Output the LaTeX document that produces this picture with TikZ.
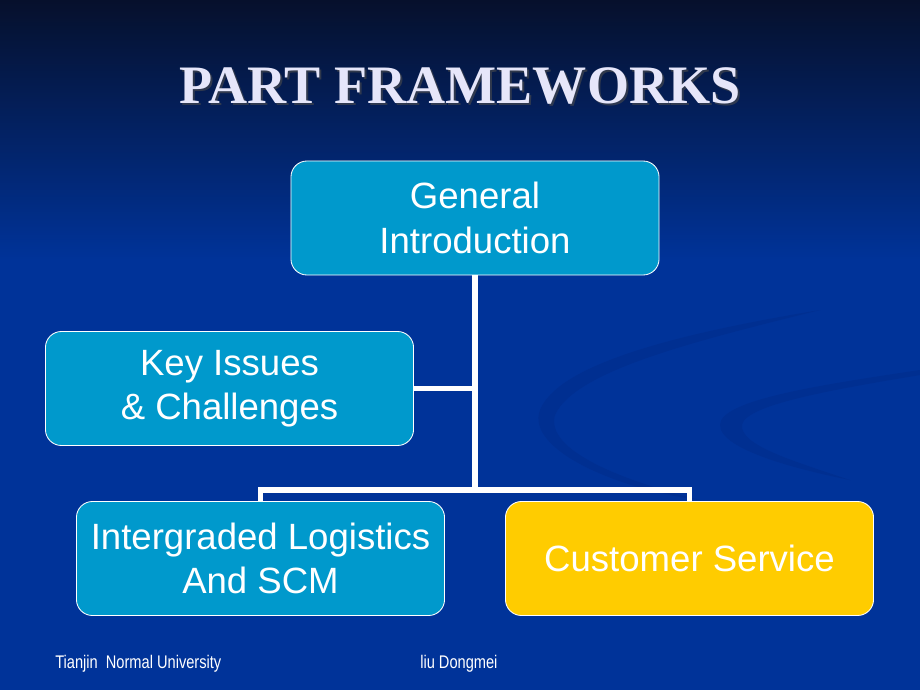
\documentclass[tikz,border=0pt]{standalone}
\usepackage{fontspec}
\setmainfont{Liberation Serif}
\newfontfamily\boxfont{Liberation Sans}
\usetikzlibrary{calc, shadows}

\definecolor{slidetop}{RGB}{6,16,44}
\definecolor{slideblue}{RGB}{0,51,153}
\definecolor{swoosh}{RGB}{0,47,145}
\definecolor{boxblue}{RGB}{0,153,204}
\definecolor{boxgold}{RGB}{255,204,0}
\definecolor{titlewhite}{RGB}{230,230,250}

\begin{document}
\begin{tikzpicture}[x=0.025cm, y=-0.025cm,
part/.style={draw=white, line width=0.6pt, rounded corners=0.4cm, fill=boxblue,
  minimum width=9.2cm, minimum height=2.85cm, align=center, text=white,
  font=\boxfont\fontsize{26}{31.5}\selectfont},
foot/.style={text=white, inner sep=0pt, anchor=west, font=\boxfont\fontsize{13}{14}\selectfont},
link/.style={draw=white, line width=3.6pt}]
% background
\useasboundingbox (0,0) rectangle (920,690);
\fill[slideblue] (0,0) rectangle (920,690);
\shade[top color=slidetop, bottom color=slideblue] (0,0) rectangle (920,260);
\fill[swoosh] (820,310) .. controls (700,330) and (560,360) .. (540,410)
  .. controls (525,450) and (620,490) .. (700,500)
  .. controls (620,480) and (545,450) .. (555,415)
  .. controls (575,370) and (700,340) .. (820,310);
\fill[swoosh] (920,370) .. controls (820,385) and (720,400) .. (720,425)
  .. controls (720,450) and (800,470) .. (850,480)
  .. controls (790,460) and (740,445) .. (742,425)
  .. controls (745,405) and (830,390) .. (920,375);
% title
\node[font=\bfseries\fontsize{38.5}{40}\selectfont, text=black!70, opacity=0.6] at (462,88) {PART FRAMEWORKS};
\node (title) [font=\bfseries\fontsize{38.5}{40}\selectfont, text=titlewhite] at (460,86) {PART FRAMEWORKS};
% boxes
\node (gen) [part] at (475,218) {General\\Introduction};
\node (key) [part] at (229.5,388.5) {Key Issues\\ \& Challenges};
\node (log) [part] at (260.5,558.5) {Intergraded Logistics\\And SCM};
\node (cs) [part, fill=boxgold] at (689.5,558.5) {Customer Service};
\coordinate (bus) at (475,490);
% connectors
\draw[link] (gen.south) -- (bus);
\draw[link] (key.east) -- (key.east -| gen.south);
\draw[link] (log.north) |- (bus) -| (cs.north);
% footer
\node (uni) [foot] at (55,664) {\scalebox{0.8}[1]{Tianjin\ \ Normal University}};
\node (auth) [foot] at (420,664) {\scalebox{0.8}[1]{liu Dongmei}};
\end{tikzpicture}
\end{document}
